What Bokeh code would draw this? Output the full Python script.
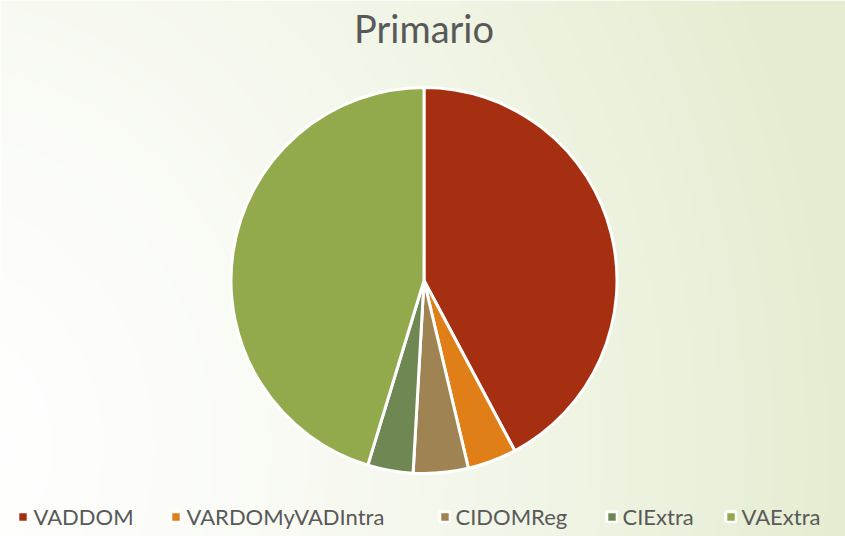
import numpy as np
from bokeh.plotting import figure
from bokeh.models import Range1d, Legend, LegendItem, Label
from bokeh.embed import file_html
from bokeh.resources import INLINE

# ---- data ----
categories = ["VADDOM", "VARDOMyVADIntra", "CIDOMReg", "CIExtra", "VAExtra"]
shares = [42.2, 4.1, 4.6, 3.8, 45.3]
colors = ["#A52F10", "#E07E18", "#A08353", "#6F8853", "#93AA4C"]
title_text = "Primario"

W, H = 845, 536
p = figure(width=W, height=H, output_backend="svg", toolbar_location=None,
           x_range=Range1d(0, W), y_range=Range1d(0, H),
           min_border=0, outline_line_color=None)
p.axis.visible = False
p.grid.visible = False
p.background_fill_color = "#FFFFFF"
p.border_fill_color = "#FFFFFF"

# background gradient (decoration)
yy, xx = np.mgrid[0:H, 0:W]
d = np.sqrt(((xx + 60) / 1.0) ** 2 + ((yy - 90) / 1.15) ** 2)
t = np.clip(d / 900.0, 0, 1) ** 1.5
c0 = np.array([255, 255, 255])
c1 = np.array([229, 237, 209])
rgb = (c0[None, None, :] * (1 - t[..., None]) + c1[None, None, :] * t[..., None]).astype(np.uint8)
img = np.empty((H, W), dtype=np.uint32)
view = img.view(dtype=np.uint8).reshape((H, W, 4))
view[..., 0] = rgb[..., 0]
view[..., 1] = rgb[..., 1]
view[..., 2] = rgb[..., 2]
view[..., 3] = 255
p.image_rgba(image=[img], x=0, y=0, dw=W, dh=H)

# ---- pie ----
vals = np.array(shares, dtype=float)
frac = vals / vals.sum()
cum = np.concatenate([[0], np.cumsum(frac)])
start = np.pi / 2 - cum[:-1] * 2 * np.pi
end = np.pi / 2 - cum[1:] * 2 * np.pi

cx, cy, r = 423.5, 256, 193
renderers = []
for i in range(len(categories)):
    rr = p.wedge(x=cx, y=cy, radius=r, start_angle=start[i], end_angle=end[i],
                 direction="clock", fill_color=colors[i], line_color="white",
                 line_width=3)
    renderers.append(rr)

# title
p.add_layout(Label(x=cx, y=509, text=title_text, text_align="center",
                   text_baseline="middle", text_font="Lato",
                   text_font_size="38px", text_color="#595959"))

# legends, one per item
leg_x = [15.5, 168.5, 437.5, 604.5, 723.5]
for i, cat in enumerate(categories):
    lg = Legend(items=[LegendItem(label=cat, renderers=[renderers[i]])],
                location=(leg_x[i], 6), orientation="horizontal",
                padding=0, margin=0, spacing=0, border_line_alpha=0,
                background_fill_alpha=0, glyph_width=13, glyph_height=13,
                label_standoff=5, label_height=18,
                label_text_font="Lato", label_text_font_size="22px",
                label_text_color="#595959")
    p.add_layout(lg)

open("out.html", "w").write(file_html(p, INLINE))
